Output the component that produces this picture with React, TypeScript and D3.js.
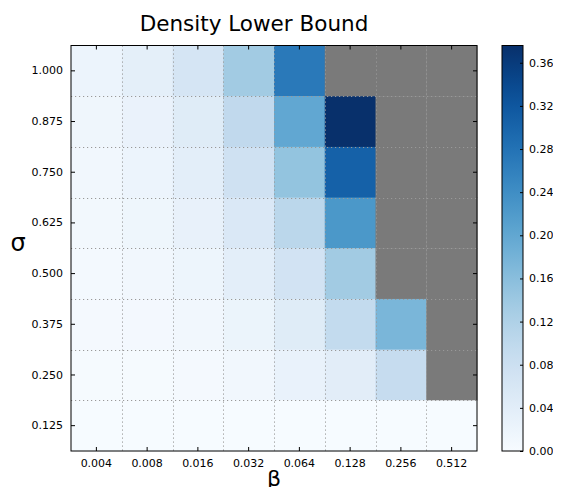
import React, { useRef, useEffect } from 'react'
import * as d3 from 'd3'

// β on x, σ on y (top row = 1.000)
const betaLabels = ['0.004', '0.008', '0.016', '0.032', '0.064', '0.128', '0.256', '0.512']
const sigmaLabels = ['1.000', '0.875', '0.750', '0.625', '0.500', '0.375', '0.250', '0.125']

// density lower bound per σ row, null = no value (grey)
const sigma1000 = [0.020, 0.035, 0.065, 0.135, 0.27, null, null, null]
const sigma0875 = [0.015, 0.025, 0.045, 0.098, 0.20, 0.376, null, null]
const sigma0750 = [0.012, 0.020, 0.038, 0.075, 0.15, 0.305, null, null]
const sigma0625 = [0.010, 0.016, 0.028, 0.055, 0.105, 0.225, null, null]
const sigma0500 = [0.007, 0.011, 0.018, 0.038, 0.07, 0.135, null, null]
const sigma0375 = [0.005, 0.008, 0.012, 0.022, 0.045, 0.094, 0.175, null]
const sigma0250 = [0.003, 0.004, 0.006, 0.012, 0.026, 0.04, 0.09, null]
const sigma0125 = [0.001, 0.001, 0.001, 0.001, 0.001, 0.001, 0.001, 0.001]

const rows = [sigma1000, sigma0875, sigma0750, sigma0625, sigma0500, sigma0375, sigma0250, sigma0125]
const colorTicks = [0, 0.04, 0.08, 0.12, 0.16, 0.2, 0.24, 0.28, 0.32, 0.36]
const vMax = 0.376

const W = 561, H = 495
const left = 71, right = 477, top = 45.5, bottom = 451
const cbLeft = 502, cbRight = 523
const font = 'DejaVu Sans, sans-serif'

function Heatmap() {
  const svgRef = useRef<SVGSVGElement>(null)

  useEffect(() => {
    const svg = d3.select(svgRef.current)
    svg.selectAll('*').remove()

    const x = d3.scaleBand().domain(betaLabels).range([left, right])
    const y = d3.scaleBand().domain(sigmaLabels).range([top, bottom])
    const color = d3.scaleSequential(d3.interpolateBlues).domain([0, vMax])

    const cells = rows.flatMap((r, i) => r.map((v, j) => ({ s: sigmaLabels[i], b: betaLabels[j], v })))
    svg.append('g')
      .selectAll('rect')
      .data(cells)
      .join('rect')
      .attr('x', d => x(d.b)!)
      .attr('y', d => y(d.s)!)
      .attr('width', x.bandwidth() + 0.5)
      .attr('height', y.bandwidth() + 0.5)
      .attr('fill', d => d.v == null ? '#7a7a7a' : color(d.v))

    // dotted grid at cell boundaries
    const grid = svg.append('g').attr('stroke', '#999').attr('stroke-width', 1).attr('stroke-dasharray', '1.2,2.8')
    betaLabels.slice(1).forEach(b => {
      const px = Math.round(x(b)!) + 0.5
      grid.append('line').attr('x1', px).attr('x2', px).attr('y1', top).attr('y2', bottom)
    })
    sigmaLabels.slice(1).forEach(s => {
      const py = Math.round(y(s)!) + 0.5
      grid.append('line').attr('x1', left).attr('x2', right).attr('y1', py).attr('y2', py)
    })

    // axes, ticks inward
    const xb = svg.append('g').attr('transform', `translate(0,${bottom})`)
      .call(d3.axisBottom(x).tickSizeInner(-4).tickSizeOuter(0).tickPadding(8))
    const xt = svg.append('g').attr('transform', `translate(0,${top})`)
      .call(d3.axisTop(x).tickSizeInner(-4).tickSizeOuter(0).tickFormat(() => ''))
    const yl = svg.append('g').attr('transform', `translate(${left},0)`)
      .call(d3.axisLeft(y).tickSizeInner(-4).tickSizeOuter(0).tickPadding(8))
    const yr = svg.append('g').attr('transform', `translate(${right},0)`)
      .call(d3.axisRight(y).tickSizeInner(-4).tickSizeOuter(0).tickFormat(() => ''))
    ;[xb, xt, yl, yr].forEach(g => {
      g.select('.domain').remove()
      g.selectAll('line').attr('stroke', '#000')
      g.selectAll('text').attr('font-family', font).attr('font-size', 11).attr('fill', '#000')
    })
    svg.append('rect').attr('x', left).attr('y', top).attr('width', right - left).attr('height', bottom - top)
      .attr('fill', 'none').attr('stroke', '#000').attr('stroke-width', 1)

    // colorbar
    const cy = d3.scaleLinear().domain([0, vMax]).range([bottom, top])
    const grad = svg.append('defs').append('linearGradient').attr('id', 'cbGrad')
      .attr('x1', 0).attr('y1', 1).attr('x2', 0).attr('y2', 0)
    d3.range(0, 1.0001, 0.05).forEach(t => {
      grad.append('stop').attr('offset', t).attr('stop-color', color(t * vMax))
    })
    svg.append('rect').attr('x', cbLeft).attr('y', top).attr('width', cbRight - cbLeft).attr('height', bottom - top)
      .attr('fill', 'url(#cbGrad)').attr('stroke', '#000').attr('stroke-width', 1)
    const cb = svg.append('g').attr('transform', `translate(${cbRight},0)`)
      .call(d3.axisRight(cy).tickValues(colorTicks).tickFormat(d3.format('.2f')).tickSizeInner(-3).tickSizeOuter(0).tickPadding(6))
    cb.select('.domain').remove()
    cb.selectAll('line').attr('stroke', '#000')
    cb.selectAll('text').attr('font-family', font).attr('font-size', 11).attr('fill', '#000')

    // titles
    svg.append('text').attr('x', 254).attr('y', 31).attr('text-anchor', 'middle')
      .attr('font-family', font).attr('font-size', 21.5).text('Density Lower Bound')
    svg.append('text').attr('x', 18).attr('y', 251).attr('text-anchor', 'middle')
      .attr('font-family', font).attr('font-size', 24).text('σ')
    svg.append('text').attr('x', 274).attr('y', 486).attr('text-anchor', 'middle')
      .attr('font-family', font).attr('font-size', 22).text('β')
  }, [])

  return <svg ref={svgRef} width={W} height={H} style={{ display: 'block' }} />
}

export default function App() {
  return (
    <div style={{ margin: -8 }}>
      <Heatmap />
    </div>
  )
}
